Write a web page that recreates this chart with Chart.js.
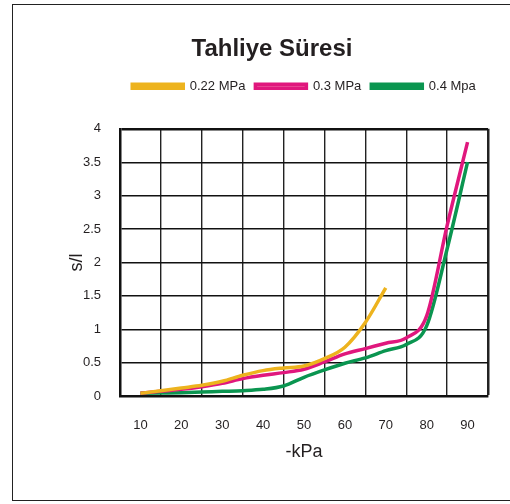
<!DOCTYPE html>
<html>
<head>
<meta charset="utf-8">
<script src="https://cdn.jsdelivr.net/npm/chart.js@4"></script>
<style>
    body { margin: 0; background: #fff; width: 510px; height: 504px; overflow: hidden; position: relative; }
    .frame { position: absolute; left: 12px; top: 4px; width: 520px; height: 497px; border: 1.5px solid #222; border-right: none; box-sizing: border-box; }
    .wrap { position: absolute; left: 12px; top: 0; width: 498px; height: 504px; }
</style>
</head>
<body>
<div class="frame"></div>
<div class="wrap"><canvas id="tahliyeChart" width="498" height="504"></canvas></div>
<script>
// kPa değerleri
const kpa = [10, 15, 20, 25, 30, 35, 40, 45, 50, 55, 60, 65, 70, 75, 80, 85, 90];
const xTicks = [10, 20, 30, 40, 50, 60, 70, 80, 90];
const yTicks = [0, 0.5, 1, 1.5, 2, 2.5, 3, 3.5, 4];

// s/l değerleri
const mpa022 = [0.04, 0.08, 0.12, 0.16, 0.22, 0.31, 0.38, 0.42, 0.45, 0.56, 0.73, 1.1, 1.62];
const mpa03 = [0.04, 0.07, 0.10, 0.14, 0.19, 0.26, 0.31, 0.35, 0.40, 0.51, 0.63, 0.71, 0.79, 0.87, 1.2, 2.55, 3.8];
const mpa04 = [0.04, 0.045, 0.05, 0.06, 0.07, 0.08, 0.10, 0.15, 0.28, 0.39, 0.49, 0.57, 0.68, 0.77, 1.05, 2.2, 3.5];

const seriesNames = ['0.22 MPa', '0.3 MPa', '0.4 Mpa'];

function toPoints(values) {
    return values.map((v, i) => ({ x: kpa[i], y: v }));
}

// legend altına boşluk
const legendMargin = {
    id: 'legendMargin',
    beforeInit(chart) {
        const fit = chart.legend.fit;
        chart.legend.fit = function () {
            fit.bind(chart.legend)();
            this.height += 26;
        };
    }
};

const fontName = '"Liberation Sans", Arial, sans-serif';

const ctx = document.getElementById('tahliyeChart').getContext('2d');
new Chart(ctx, {
    type: 'line',
    data: {
        datasets: [{
            label: seriesNames[0],
            data: toPoints(mpa022),
            borderColor: '#EDB31E',
            backgroundColor: '#EDB31E',
            borderWidth: 3.5
        }, {
            label: seriesNames[1],
            data: toPoints(mpa03),
            borderColor: '#E0177D',
            backgroundColor: '#EE72A6',
            borderWidth: 3.5
        }, {
            label: seriesNames[2],
            data: toPoints(mpa04),
            borderColor: '#0A9550',
            backgroundColor: '#0A9550',
            borderWidth: 3.5
        }]
    },
    options: {
        responsive: false,
        animation: false,
        elements: {
            point: { radius: 0 },
            line: { cubicInterpolationMode: 'monotone', borderCapStyle: 'butt' }
        },
        layout: { padding: { top: 0, right: 22, bottom: 0, left: 44 } },
        plugins: {
            title: {
                display: true,
                text: 'Tahliye Süresi',
                color: '#231f20',
                font: { family: fontName, size: 24, weight: 'bold' },
                padding: { top: 35, bottom: 6 }
            },
            legend: {
                fullSize: false,
                labels: {
                    boxWidth: 51,
                    boxHeight: 4,
                    padding: 10,
                    color: '#231f20',
                    font: { family: fontName, size: 13 }
                }
            },
            tooltip: { enabled: false }
        },
        scales: {
            x: {
                type: 'linear',
                min: 5,
                max: 95,
                afterBuildTicks(scale) {
                    const t = [];
                    for (let v = 5; v <= 95; v += 5) t.push({ value: v });
                    scale.ticks = t;
                },
                afterFit(scale) { scale.height = 108; },
                ticks: {
                    autoSkip: false,
                    maxRotation: 0,
                    padding: 22,
                    color: '#231f20',
                    font: { family: fontName, size: 13 },
                    callback: (v) => xTicks.includes(v) ? String(v) : ''
                },
                grid: {
                    drawTicks: false,
                    color: (c) => (c.tick && c.tick.value % 10 === 5) ? '#222' : 'rgba(0,0,0,0)',
                    lineWidth: (c) => (c.tick && c.tick.value === 95) ? 2.5 : 1.4
                },
                border: { display: true, color: '#111', width: 2.5 },
                title: {
                    display: true,
                    text: '-kPa',
                    color: '#231f20',
                    font: { family: fontName, size: 18 },
                    padding: { top: 0, bottom: 41 }
                }
            },
            y: {
                min: 0,
                max: 4,
                afterBuildTicks(scale) {
                    scale.ticks = yTicks.map(v => ({ value: v }));
                },
                afterFit(scale) { scale.width = 64; },
                ticks: {
                    padding: 19,
                    color: '#231f20',
                    font: { family: fontName, size: 13 },
                    callback: (v) => String(v)
                },
                grid: {
                    drawTicks: false,
                    color: '#111',
                    lineWidth: (c) => (c.tick && c.tick.value === 4) ? 2.5 : 1.4
                },
                border: { display: true, color: '#111', width: 2.5 },
                title: {
                    display: true,
                    text: 's/l',
                    color: '#231f20',
                    font: { family: fontName, size: 18 },
                    padding: { top: 10, bottom: 0 }
                }
            }
        }
    },
    plugins: [legendMargin]
});
</script>
</body>
</html>
